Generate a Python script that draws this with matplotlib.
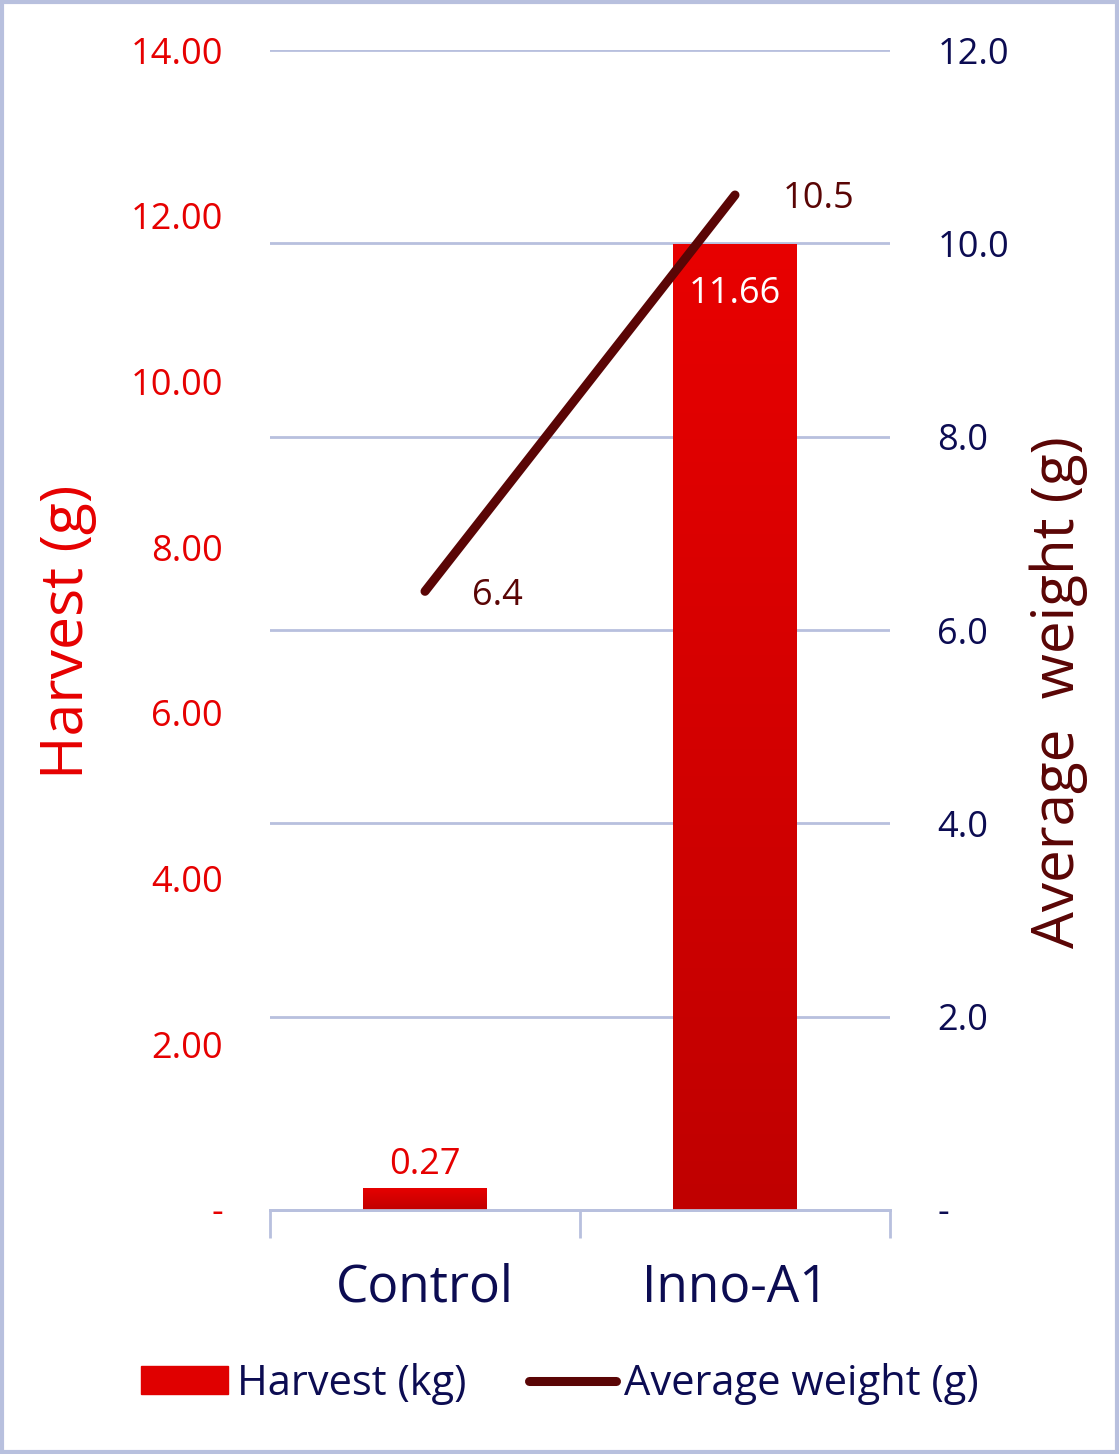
import numpy as np
import matplotlib.pyplot as plt
from matplotlib.patches import Rectangle
from matplotlib.lines import Line2D
from matplotlib.colors import LinearSegmentedColormap
from matplotlib.ticker import FuncFormatter

plt.rcParams['font.family'] = ['Open Sans', 'DejaVu Sans']

categories = ['Control', 'Inno-A1']
harvest = [0.27, 11.66]
avg_weight = [6.4, 10.5]

red = '#E60000'
maroon = '#5A0505'
navy = '#0C0C52'
grid_col = '#B8C0DE'

fig = plt.figure(figsize=(11.19, 14.54), dpi=100)
ax = fig.add_axes([270 / 1119, 1 - 1210 / 1454, 620 / 1119, 1160 / 1454])
ax2 = ax.twinx()

x = np.arange(len(categories))

# bars with a vertical gradient
grad = LinearSegmentedColormap.from_list('g', ['#C00000', '#E80000'])
bars = ax.bar(x, harvest, width=0.4, color='#E00000', zorder=2)
for b in bars:
    bx, by = b.get_x(), b.get_y()
    w, h = b.get_width(), b.get_height()
    img = ax.imshow(np.linspace(0, 1, 256).reshape(-1, 1), cmap=grad, origin='lower',
                    extent=[bx, bx + w, by, by + h], aspect='auto', zorder=2.1)
    img.set_clip_path(b)

ax.set_xlim(-0.5, 1.5)
ax.set_ylim(0, 14)
ax2.set_ylim(0, 12)

# gridlines follow the right axis
ax2.set_yticks(np.arange(0, 13, 2))
ax2.yaxis.grid(True, color=grid_col, lw=2)
ax2.set_axisbelow(True)
ax.set_yticks(np.arange(0, 15, 2))

ax.yaxis.set_major_formatter(FuncFormatter(lambda v, p: '-' if v == 0 else f'{v:.2f}'))
ax2.yaxis.set_major_formatter(FuncFormatter(lambda v, p: '-' if v == 0 else f'{v:.1f}'))
ax.tick_params(axis='y', length=0, pad=34, labelsize=26, labelcolor=red)
ax2.tick_params(axis='y', length=0, pad=34, labelsize=26, labelcolor=navy)

ax.set_xticks(x)
ax.set_xticklabels(categories)
ax.set_xticks([-0.5, 0.5, 1.5], minor=True)
ax.tick_params(axis='x', which='major', length=0, pad=38, labelsize=37, labelcolor=navy)
ax.tick_params(axis='x', which='minor', length=20, width=2, color=grid_col)

for a in (ax, ax2):
    for s in ('top', 'left', 'right'):
        a.spines[s].set_visible(False)
    a.spines['bottom'].set_color(grid_col)
    a.spines['bottom'].set_linewidth(2)
    a.patch.set_visible(False)

ax.set_zorder(ax2.get_zorder() + 1)
ax2.set_zorder(0)

# line drawn on the left axes (rescaled from the right axis) so it sits above the bars
ax.plot(x, np.array(avg_weight) * 14 / 12, color=maroon, lw=6.5, solid_capstyle='round', zorder=4)

# labels
ax.annotate(f'{harvest[0]:.2f}', (x[0], harvest[0]), xytext=(0, 3), textcoords='offset points',
            ha='center', va='bottom', fontsize=26, color=red, zorder=5)
ax.annotate(f'{harvest[1]:.2f}', (x[1], harvest[1]), xytext=(0, -36), textcoords='offset points',
            ha='center', va='center', fontsize=26, color='white', zorder=5)
for xi, v in zip(x, avg_weight):
    ax.annotate(f'{v:.1f}', (xi, v * 14 / 12), xytext=(34, -3), textcoords='offset points',
                ha='left', va='center', fontsize=26, color=maroon, zorder=5)

fig.text(68 / 1119, 1 - 632 / 1454, 'Harvest (g)', rotation=90, ha='center', va='center',
         fontsize=42.5, color=red)
fig.text(1059 / 1119, 1 - 692 / 1454, 'Average  weight (g)', rotation=90, ha='center', va='center',
         fontsize=42, color=maroon)

handles = [Rectangle((0, 0), 1, 1, color='#E00000'),
           Line2D([0], [0], color=maroon, lw=6.5, solid_capstyle='round')]
fig.legend(handles, ['Harvest (kg)', 'Average weight (g)'], loc='center',
           bbox_to_anchor=(560 / 1119, 1 - 1384 / 1454), ncol=2, frameon=False, fontsize=30,
           labelcolor=navy, handlelength=2.1, handleheight=0.65, handletextpad=0.2,
           columnspacing=1.5)

fig.patches.append(Rectangle((0.0015, 0.0015), 0.997, 0.997, transform=fig.transFigure,
                             fill=False, ec=grid_col, lw=3))

fig.savefig('out.png', dpi=100)
